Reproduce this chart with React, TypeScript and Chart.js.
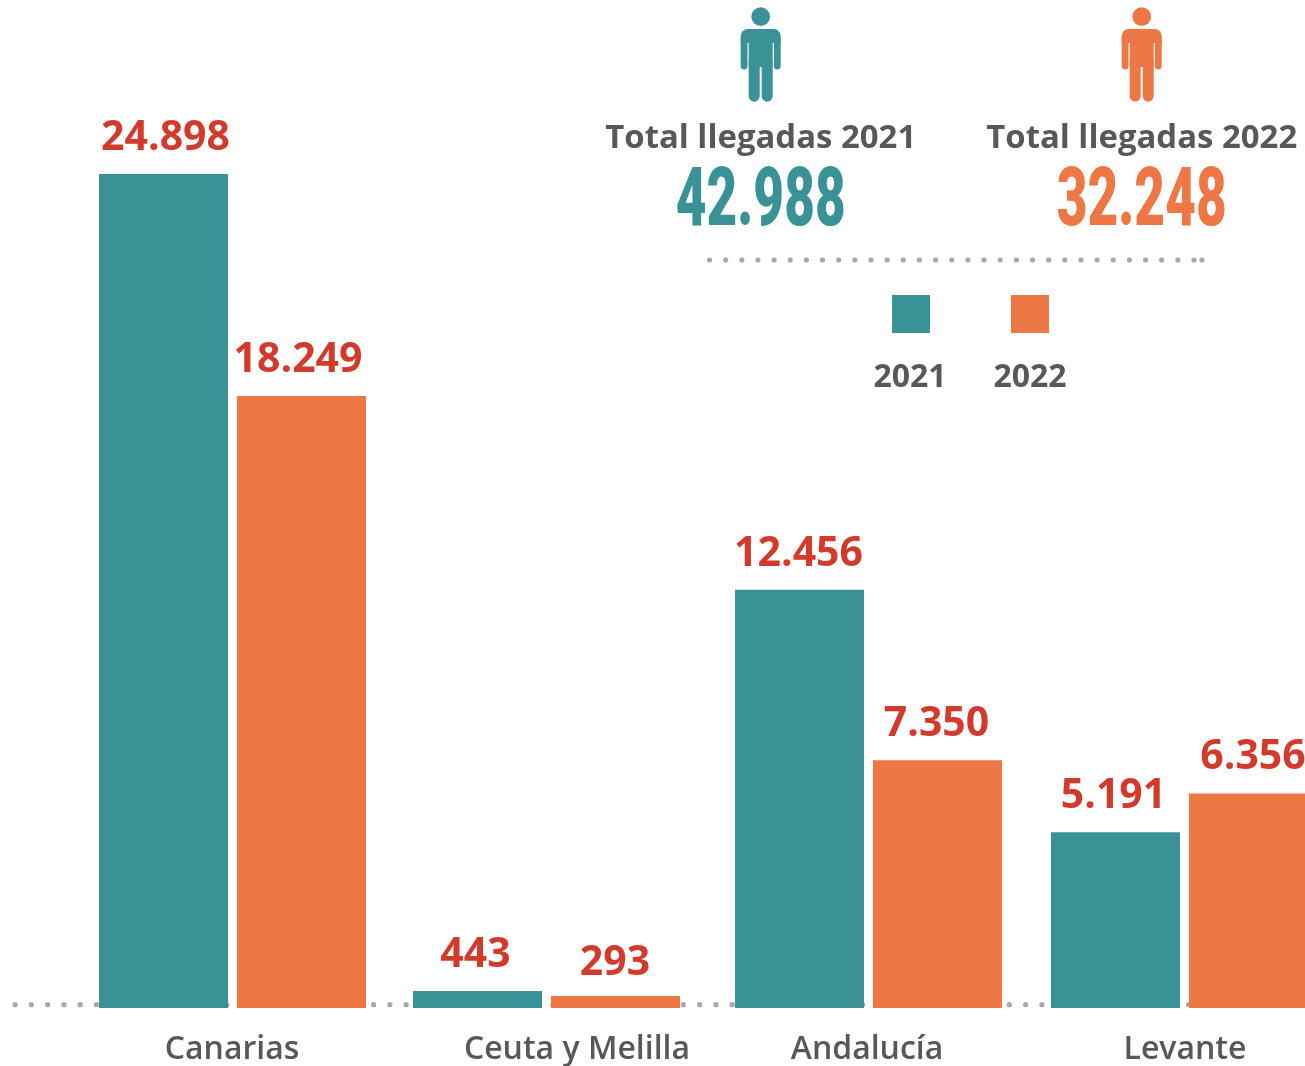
import React, { useEffect, useRef } from "react";
import { Chart, registerables } from "chart.js";

Chart.register(...registerables);

const categories = ["Canarias", "Ceuta y Melilla", "Andalucía", "Levante"];
const values2021 = [24898, 443, 12456, 5191];
const values2022 = [18249, 293, 7350, 6356];
const seriesLabels = ["2021", "2022"];
const totalLabels = ["Total llegadas 2021", "Total llegadas 2022"];
const totals = [42988, 32248];

const TEAL = "#3A9297";
const ORANGE = "#EE7746";
const RED = "#D23A2B";
const GRAY = "#58585A";
const DOT = "#A8A8A8";

// layout tuning, in pixels
const groupNudge = [1.9, -1.4, 3.4, 2.1];
const labelNudge = [-0.5, 30.5, -1.5, 0.5];
const valueNudge = [
  [2, -2, -1, -2],
  [-3.5, -0.5, -1, -0.5],
];
const valueLift = [
  [24, 24, 24, 24],
  [24, 21.5, 24, 24],
];
const CANVAS_W = 1341;

const fmt = (v: number) => String(v).replace(/\B(?=(\d{3})+(?!\d))/g, ".");

function person(ctx: CanvasRenderingContext2D, cx: number, color: string) {
  ctx.save();
  ctx.fillStyle = color;
  ctx.translate(cx, 0);
  ctx.beginPath();
  ctx.arc(0, 16.7, 9.4, 0, Math.PI * 2);
  ctx.fill();
  ctx.beginPath();
  ctx.roundRect(-20, 29, 40, 14, [7, 7, 0, 0]);
  ctx.fill();
  ctx.beginPath();
  ctx.roundRect(-20, 38, 6.8, 31.5, [0, 0, 3.4, 3.4]);
  ctx.roundRect(13.2, 38, 6.8, 31.5, [0, 0, 3.4, 3.4]);
  ctx.rect(-12, 29, 24, 38);
  ctx.fill();
  ctx.beginPath();
  ctx.roundRect(-12, 60, 11, 41.7, [0, 0, 5.5, 5.5]);
  ctx.roundRect(1, 60, 11, 41.7, [0, 0, 5.5, 5.5]);
  ctx.fill();
  ctx.restore();
}

function dotted(ctx: CanvasRenderingContext2D, x0: number, x1: number, y: number, gap: number) {
  ctx.save();
  ctx.strokeStyle = DOT;
  ctx.lineWidth = 5.2;
  ctx.lineCap = "round";
  ctx.setLineDash([0, gap]);
  ctx.beginPath();
  ctx.moveTo(x0, y);
  ctx.lineTo(x1, y);
  ctx.stroke();
  ctx.restore();
}

const decor = {
  id: "decor",
  afterDatasetsUpdate(chart: any) {
    chart.data.datasets.forEach((_: any, di: number) => {
      chart.getDatasetMeta(di).data.forEach((bar: any, i: number) => {
        bar.x += groupNudge[i];
      });
    });
  },
  beforeDraw(chart: any) {
    const items = chart.scales.x.getLabelItems();
    items.forEach((it: any, i: number) => {
      if (!it.__nudged) {
        it.options.translation[0] += groupNudge[i] + labelNudge[i];
        it.__nudged = true;
      }
    });
  },
  beforeDatasetsDraw(chart: any) {
    dotted(chart.ctx, 15, 1190, chart.scales.y.getPixelForValue(33), 16.3);
  },
  afterDatasetsDraw(chart: any) {
    const ctx: CanvasRenderingContext2D = chart.ctx;
    ctx.save();
    ctx.textAlign = "center";
    ctx.textBaseline = "alphabetic";

    // value labels above bars
    ctx.fillStyle = RED;
    ctx.font = "700 41px 'Open Sans'";
    chart.data.datasets.forEach((ds: any, di: number) => {
      chart.getDatasetMeta(di).data.forEach((bar: any, i: number) => {
        ctx.fillText(fmt(ds.data[i]), bar.x + valueNudge[di][i], bar.y - valueLift[di][i]);
      });
    });

    // summary block
    const blocks = [
      { cx: 760.7, color: TEAL },
      { cx: 1141.7, color: ORANGE },
    ];
    blocks.forEach((b, i) => {
      person(ctx, b.cx, b.color);
      ctx.fillStyle = GRAY;
      ctx.font = "700 33px 'Open Sans'";
      ctx.fillText(totalLabels[i], b.cx, 148, 311);
      ctx.fillStyle = b.color;
      ctx.font = "900 81px Roboto";
      ctx.fillText(fmt(totals[i]), b.cx, 224.5, 170);
    });
    dotted(ctx, 709.5, 1196, 260, 16.15);
    ctx.fillStyle = DOT;
    ctx.beginPath();
    ctx.arc(1202, 260, 2.6, 0, Math.PI * 2);
    ctx.fill();

    // legend
    const legendX = [911, 1030];
    chart.data.datasets.forEach((ds: any, di: number) => {
      ctx.fillStyle = ds.backgroundColor;
      ctx.fillRect(legendX[di] - 19, 295, 38, 38);
      ctx.fillStyle = GRAY;
      ctx.font = "700 32px 'Open Sans'";
      ctx.fillText(ds.label, legendX[di] - (di === 0 ? 1 : 0), 387);
    });
    ctx.restore();
  },
};

export default function App() {
  const ref = useRef<HTMLCanvasElement>(null);
  useEffect(() => {
    const chart = new Chart(ref.current!, {
      type: "bar",
      data: {
        labels: categories,
        datasets: [
          { label: seriesLabels[0], data: values2021, backgroundColor: TEAL, base: -66 } as any,
          { label: seriesLabels[1], data: values2022, backgroundColor: ORANGE, base: -66 } as any,
        ],
      },
      options: {
        animation: false,
        responsive: false,
        layout: { padding: { left: 72, right: 0, top: 0, bottom: 0 } },
        categoryPercentage: 0.87,
        barPercentage: 0.9348,
        plugins: { legend: { display: false }, tooltip: { enabled: false } },
        scales: {
          x: {
            grid: { display: false },
            border: { display: false },
            afterFit: (s: any) => {
              s.height = 58;
            },
            ticks: {
              autoSkip: false,
              maxRotation: 0,
              padding: 15,
              color: GRAY,
              font: { family: "'Open Sans'", size: 32, weight: 600 },
            },
          },
          y: { display: false, min: -66, max: 30104 },
        },
      } as any,
      plugins: [decor],
    });
    return () => chart.destroy();
  }, []);
  return (
    <div style={{ position: "absolute", left: 0, top: 0, width: 1305, height: 1066, overflow: "hidden", background: "#fff" }}>
      <canvas ref={ref} width={CANVAS_W} height={1066} style={{ display: "block" }} />
    </div>
  );
}
